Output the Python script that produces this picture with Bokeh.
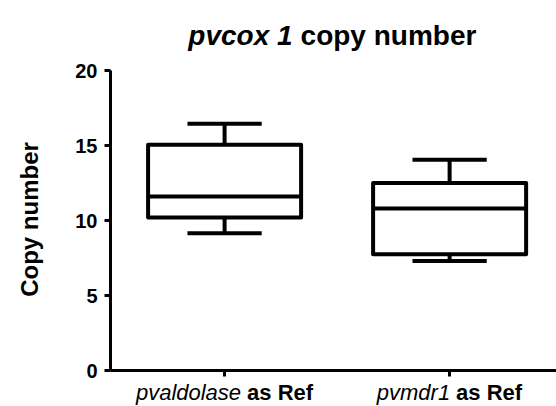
import math
from bokeh.plotting import figure
from bokeh.models import Range1d, ColumnDataSource, FixedTicker
from bokeh.core.properties import value
from bokeh.embed import file_html
from bokeh.resources import INLINE

# ---- data ----
categories = ["pvaldolase", "pvmdr1"]
cat_suffix = ["as Ref", "as Ref"]
positions = [1, 2]
whisker_low = [9.15, 7.3]
q1 = [10.2, 7.75]
median = [11.6, 10.8]
q3 = [15.05, 12.5]
whisker_high = [16.45, 14.05]
y_ticks = [0, 5, 10, 15, 20]
y_label = "Copy number"
title_italic = "pvcox 1"
title_rest = "copy number"

# ---- style / layout ----
FONT = "Liberation Sans"
box_w = 0.68
cap_w = 0.33
x_lo, x_hi = 0.493, 2.475          # visible axis extent
px_per_x = 225.0
left_px = 110
x_start = x_lo - left_px / px_per_x

p = figure(width=556, height=406, output_backend="svg", toolbar_location=None,
           x_range=Range1d(x_start, x_hi), y_range=Range1d(-2.4, 24.667),
           min_border_left=0, min_border_right=0, min_border_top=0,
           min_border_bottom=0)
p.outline_line_color = None
p.grid.visible = False
p.background_fill_color = None
p.border_fill_color = "white"

src = ColumnDataSource(dict(
    x=positions,
    left=[v - box_w / 2 for v in positions],
    right=[v + box_w / 2 for v in positions],
    cl=[v - cap_w / 2 for v in positions],
    cr=[v + cap_w / 2 for v in positions],
    lo=whisker_low, q1=q1, med=median, q3=q3, hi=whisker_high,
))

lw = 4
p.segment(x0="x", y0="q3", x1="x", y1="hi", source=src, line_color="black", line_width=lw)
p.segment(x0="x", y0="lo", x1="x", y1="q1", source=src, line_color="black", line_width=lw)
p.segment(x0="cl", y0="hi", x1="cr", y1="hi", source=src, line_color="black", line_width=lw)
p.segment(x0="cl", y0="lo", x1="cr", y1="lo", source=src, line_color="black", line_width=lw)
p.quad(left="left", right="right", bottom="q1", top="q3", source=src,
       fill_color=None, line_color="black", line_width=lw, line_join="round")
p.segment(x0="left", y0="med", x1="right", y1="med", source=src, line_color="black", line_width=lw)

# axes
for ax in (p.xaxis[0], p.yaxis[0]):
    ax.axis_line_width = 3
    ax.axis_line_color = "black"
    ax.major_tick_line_width = 3
    ax.major_tick_line_color = "black"
    ax.major_tick_in = 0
    ax.major_tick_out = 6
    ax.minor_tick_line_color = None

y0, y1 = y_ticks[0], y_ticks[-1]
p.yaxis.fixed_location = x_lo
p.yaxis.bounds = (y0, y1)
p.yaxis.ticker = FixedTicker(ticks=y_ticks)
p.yaxis.major_label_text_font = FONT
p.yaxis.major_label_text_font_style = "bold"
p.yaxis.major_label_text_font_size = "20px"
p.yaxis.major_label_text_color = "black"
p.yaxis.major_label_standoff = 7

p.xaxis.fixed_location = y0
p.xaxis.bounds = (x_lo, x_hi)
p.xaxis.ticker = FixedTicker(ticks=positions)
p.xaxis.major_label_text_font_size = "0px"
p.xaxis.major_label_text_color = None

# y axis title
ysrc = ColumnDataSource(dict(x=[x_lo], y=[(y0 + y1) / 2], t=[y_label]))
p.text(x="x", y="y", text="t", source=ysrc, angle=math.pi / 2, x_offset=-81, y_offset=-1,
       text_align="center", text_baseline="alphabetic", text_font=value(FONT),
       text_font_style="bold", text_font_size="24px", text_color="black")

# category labels: italic gene name + bold suffix (drawn below the x axis)
gene_end = [16.5, 0.5]
suf_start = [22.5, 6.5]
lsrc = ColumnDataSource(dict(
    x=positions, y=[y0] * len(positions),
    gene=categories, suf=cat_suffix, a=gene_end, b=suf_start,
))
p.text(x="x", y="y", text="gene", source=lsrc, x_offset="a", y_offset=22,
       text_align="right", text_baseline="alphabetic", text_font=value(FONT),
       text_font_style="italic", text_font_size="22px", text_color="black")
p.text(x="x", y="y", text="suf", source=lsrc, x_offset="b", y_offset=22,
       text_align="left", text_baseline="alphabetic", text_font=value(FONT),
       text_font_style="bold", text_font_size="22px", text_color="black")

# title (italic gene part + bold rest), anchored above the top tick
tsrc = ColumnDataSource(dict(x=[positions[0]], y=[y1], a=[title_italic], b=[title_rest]))
p.text(x="x", y="y", text="a", source=tsrc, x_offset=68, y_offset=-35,
       text_align="right", text_baseline="alphabetic", text_font=value(FONT),
       text_font_style="bold italic", text_font_size="28px", text_color="black")
p.text(x="x", y="y", text="b", source=tsrc, x_offset=76, y_offset=-35,
       text_align="left", text_baseline="alphabetic", text_font=value(FONT),
       text_font_style="bold", text_font_size="28px", text_color="black")

open("out.html", "w").write(file_html(p, INLINE))
